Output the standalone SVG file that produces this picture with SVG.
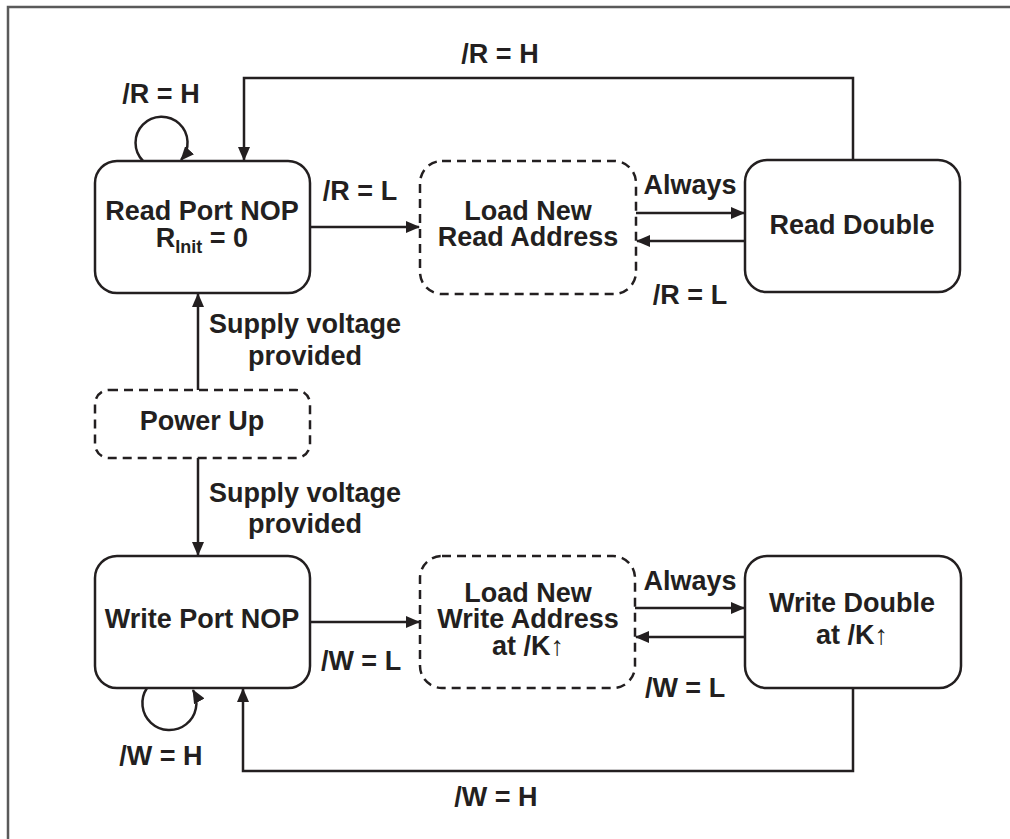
<svg xmlns="http://www.w3.org/2000/svg" width="1010" height="839" viewBox="0 0 1010 839">
<style>
text{font-family:"Liberation Sans",Arial,sans-serif;font-weight:bold;font-size:27px;fill:#231f20;text-anchor:middle}
.st{fill:#fff;stroke:#231f20;stroke-width:2.5}
.ds{fill:#fff;stroke:#231f20;stroke-width:2.5;stroke-dasharray:9 6}
.c{fill:none;stroke:#231f20;stroke-width:2.5}
.up{font-weight:normal}
</style>
<defs>
<marker id="ah" markerWidth="14" markerHeight="12" refX="13" refY="6" orient="auto" markerUnits="userSpaceOnUse">
<path d="M0,0 L14,6 L0,12 Z" fill="#231f20"/>
</marker>
</defs>
<rect width="1010" height="839" fill="#fff"/>
<path d="M8,839 V7 H1010" fill="none" stroke="#5a5a5a" stroke-width="2.5"/>

<g id="connectors">
<path class="c" d="M143,161 A26,26 0 1 1 181,160" marker-end="url(#ah)"/>
<path class="c" d="M853,160 V78 H244 V160" marker-end="url(#ah)"/>
<path class="c" d="M310,227 H419" marker-end="url(#ah)"/>
<path class="c" d="M636,213 H744" marker-end="url(#ah)"/>
<path class="c" d="M745,241 H637" marker-end="url(#ah)"/>
<path class="c" d="M198,390 V294" marker-end="url(#ah)"/>
<path class="c" d="M198,458 V555" marker-end="url(#ah)"/>
<path class="c" d="M310,622 H419" marker-end="url(#ah)"/>
<path class="c" d="M635,608 H744" marker-end="url(#ah)"/>
<path class="c" d="M745,637 H636" marker-end="url(#ah)"/>
<path class="c" d="M853,688 V771 H243 V689" marker-end="url(#ah)"/>
<path class="c" d="M147,688 A27,27 0 1 0 193,690" marker-end="url(#ah)"/>
<text x="161" y="103">/R = H</text>
<text x="500" y="63">/R = H</text>
<text x="360" y="200">/R = L</text>
<text x="690" y="194">Always</text>
<text x="690" y="304">/R = L</text>
<text x="305" y="333">Supply voltage</text>
<text x="305" y="365">provided</text>
<text x="305" y="502">Supply voltage</text>
<text x="305" y="533">provided</text>
<text x="361" y="670">/W = L</text>
<text x="690" y="590">Always</text>
<text x="685" y="697">/W = L</text>
<text x="161" y="765">/W = H</text>
<text x="496" y="806">/W = H</text>
</g>

<g id="read-port-nop">
<rect class="st" x="95" y="161" width="215" height="132" rx="22"/>
<text x="202" y="220">Read Port NOP</text>
<text x="202" y="247">R<tspan font-size="18" dy="6">Init</tspan><tspan dy="-6"> = 0</tspan></text>
</g>
<g id="load-new-read-address">
<rect class="ds" x="420" y="161" width="216" height="133" rx="22"/>
<text x="528" y="220">Load New</text>
<text x="528" y="246">Read Address</text>
</g>
<g id="read-double">
<rect class="st" x="745" y="160" width="215" height="132" rx="22"/>
<text x="852" y="234">Read Double</text>
</g>
<g id="power-up">
<rect class="ds" x="95" y="390" width="215" height="68" rx="14"/>
<text x="202" y="430">Power Up</text>
</g>
<g id="write-port-nop">
<rect class="st" x="95" y="556" width="215" height="132" rx="22"/>
<text x="202" y="628">Write Port NOP</text>
</g>
<g id="load-new-write-address">
<rect class="ds" x="420" y="556" width="215" height="132" rx="22"/>
<text x="528" y="602">Load New</text>
<text x="528" y="628">Write Address</text>
<text x="528" y="655">at /K<tspan class="up">↑</tspan></text>
</g>
<g id="write-double">
<rect class="st" x="745" y="556" width="216" height="132" rx="22"/>
<text x="852" y="612">Write Double</text>
<text x="852" y="644">at /K<tspan class="up">↑</tspan></text>
</g>
</svg>
